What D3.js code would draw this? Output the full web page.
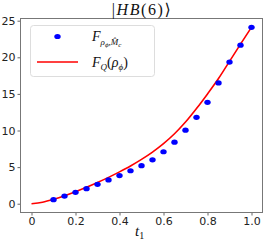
<!DOCTYPE html>
<html>
<head>
    <title>HB(6)</title>
    <meta charset="utf-8">
    <script src="https://d3js.org/d3.v7.min.js"></script>
    <style>
        body { margin: 0; background: #fff; }
        svg { display: block; }
        .tick text { font-family: "DejaVu Sans", sans-serif; font-size: 11px; fill: #222; }
        .math { font-family: "Liberation Serif", "DejaVu Serif", serif; fill: #111; }
    </style>
</head>
<body>
<svg id="myGraph" width="266" height="242"></svg>
<script>
    // data area
    var tDots = [0.1, 0.15, 0.2, 0.25, 0.3, 0.35, 0.4, 0.45, 0.5, 0.55,
                 0.6, 0.65, 0.7, 0.75, 0.8, 0.85, 0.9, 0.95, 1.0];
    var fisherDots = [0.55, 1.05, 1.55, 2.05, 2.65, 3.25, 3.85, 4.5, 5.2, 6.0,
                      7.1, 8.4, 10.05, 11.8, 13.85, 16.5, 19.35, 21.65, 24.1];
    var tCurve = [0, 0.05, 0.1, 0.15, 0.2, 0.25, 0.3, 0.35, 0.4, 0.45, 0.5,
                  0.55, 0.6, 0.65, 0.7, 0.75, 0.8, 0.85, 0.9, 0.95, 1.0];
    var quantumCurve = [0, 0.2, 0.6, 1.1, 1.65, 2.25, 2.9, 3.6, 4.35, 5.15, 6.05,
                        7.05, 8.2, 9.55, 11.15, 13.0, 15.0, 17.1, 19.45, 21.8, 24.1];
    var xTicks = [0, 0.2, 0.4, 0.6, 0.8, 1.0];
    var yTicks = [0, 5, 10, 15, 20, 25];

    // frame (window.top is reserved, so use other names)
    var fLeft = 20.5, fRight = 262.5, fTop = 18.5, fBottom = 212.5;

    var svg = d3.select("#myGraph");

    var x = d3.scaleLinear().domain([-0.05, 1.05]).range([fLeft, fRight]);
    var y = d3.scaleLinear().domain([-1.2, 25.3]).range([fBottom, fTop]);

    // axes
    svg.append("g")
        .attr("transform", "translate(0," + fBottom + ")")
        .call(d3.axisBottom(x).tickValues(xTicks).tickSize(3).tickPadding(2)
            .tickFormat(function (d) { return d === 0 ? "0" : d.toFixed(1); }));
    svg.append("g")
        .attr("transform", "translate(" + fLeft + ",0)")
        .call(d3.axisLeft(y).tickValues(yTicks).tickSize(3).tickPadding(2));
    svg.selectAll(".domain").remove();
    svg.selectAll(".tick line").attr("stroke", "#666");

    // spines
    svg.append("rect")
        .attr("x", fLeft).attr("y", fTop)
        .attr("width", fRight - fLeft).attr("height", fBottom - fTop)
        .attr("fill", "none").attr("stroke", "#777").attr("stroke-width", 1);

    // red curve
    var line = d3.line()
        .x(function (d, i) { return x(tCurve[i]); })
        .y(function (d) { return y(d); })
        .curve(d3.curveMonotoneX);
    svg.append("path")
        .datum(quantumCurve)
        .attr("d", line)
        .attr("fill", "none")
        .attr("stroke", "#ff0000")
        .attr("stroke-width", 1.6);

    // blue dots
    svg.selectAll("ellipse.dot")
        .data(fisherDots)
        .enter()
        .append("ellipse")
        .attr("class", "dot")
        .attr("cx", function (d, i) { return x(tDots[i]); })
        .attr("cy", function (d) { return y(d); })
        .attr("rx", 3.2)
        .attr("ry", 2.6)
        .attr("fill", "#0000ff");

    // title
    var title = svg.append("text").attr("class", "math")
        .attr("x", 142).attr("y", 15).attr("text-anchor", "middle")
        .attr("font-size", 16).attr("letter-spacing", 1.6);
    title.append("tspan").text("|");
    title.append("tspan").attr("font-style", "italic").text("HB");
    title.append("tspan").text("(6)⟩");

    // x label
    var xl = svg.append("text").attr("class", "math")
        .attr("x", 135).attr("y", 236).attr("font-size", 15);
    xl.append("tspan").attr("font-style", "italic").text("t");
    xl.append("tspan").attr("font-size", 10).attr("dy", 3).text("1");

    // legend
    var legend = svg.append("g");
    legend.append("rect")
        .attr("x", 30.5).attr("y", 25.5)
        .attr("width", 124).attr("height", 51)
        .attr("rx", 3)
        .attr("fill", "#fff").attr("fill-opacity", 0.8)
        .attr("stroke", "#ddd").attr("stroke-width", 1);
    legend.append("ellipse")
        .attr("cx", 57.5).attr("cy", 36.5).attr("rx", 3.2).attr("ry", 2.6)
        .attr("fill", "#0000ff");
    legend.append("line")
        .attr("x1", 37).attr("x2", 78).attr("y1", 62).attr("y2", 62)
        .attr("stroke", "#ff0000").attr("stroke-width", 1.6);

    var l1 = legend.append("text").attr("class", "math")
        .attr("x", 92).attr("y", 41).attr("font-size", 14);
    l1.append("tspan").attr("font-style", "italic").text("F");
    l1.append("tspan").attr("font-style", "italic").attr("font-size", 9).attr("dy", 4).text("ρ");
    l1.append("tspan").attr("font-style", "italic").attr("font-size", 7).attr("dy", 2).text("ϕ");
    l1.append("tspan").attr("font-size", 9).attr("dy", -2).text(",");
    l1.append("tspan").attr("font-style", "italic").attr("font-size", 9).text("M̂");
    l1.append("tspan").attr("font-style", "italic").attr("font-size", 7).attr("dy", 1.5).text("c");

    var l2 = legend.append("text").attr("class", "math")
        .attr("x", 92).attr("y", 67).attr("font-size", 14);
    l2.append("tspan").attr("font-style", "italic").text("F");
    l2.append("tspan").attr("font-style", "italic").attr("font-size", 9).attr("dy", 3).text("Q");
    l2.append("tspan").attr("dy", -3).text("(");
    l2.append("tspan").attr("font-style", "italic").text("ρ");
    l2.append("tspan").attr("font-style", "italic").attr("font-size", 9).attr("dy", 3).text("ϕ");
    l2.append("tspan").attr("dy", -3).text(")");
</script>
</body>
</html>
